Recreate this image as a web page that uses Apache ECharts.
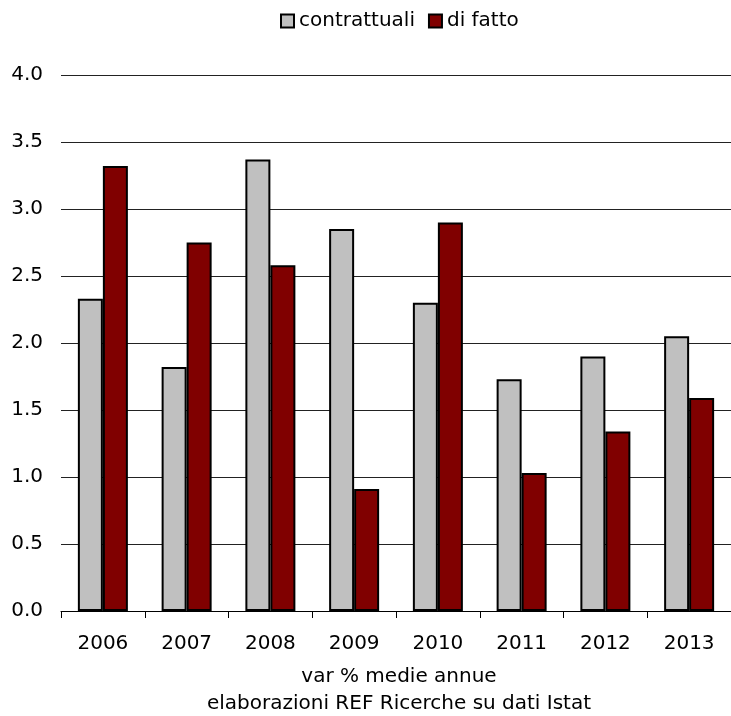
<!DOCTYPE html>
<html>
<head>
<meta charset="utf-8">
<script src="https://cdn.jsdelivr.net/npm/echarts@6/dist/echarts.min.js"></script>
<style>
html,body{margin:0;padding:0;background:#fff;}
#chart{width:731px;height:716px;}
</style>
</head>
<body>
<div id="chart"></div>
<script>
const categories = ['2006','2007','2008','2009','2010','2011','2012','2013'];
const contrattuali = [2.33, 1.82, 3.37, 2.85, 2.30, 1.73, 1.90, 2.05];
const diFatto = [3.32, 2.75, 2.58, 0.91, 2.90, 1.03, 1.34, 1.59];
const yTicks = { min: 0, max: 4, interval: 0.5 };
const footLines = ['var % medie annue', 'elaborazioni REF Ricerche su dati Istat'];

const font = 'DejaVu Sans';
const fs = 20;
const gridLeft = 61, gridRight = -6;
const plotCenter = gridLeft + (731 - gridLeft - gridRight) / 2;

const chart = echarts.init(document.getElementById('chart'), null, {renderer: 'canvas'});
chart.setOption({
  animation: false,
  backgroundColor: '#ffffff',
  textStyle: { fontFamily: font, color: '#000' },
  graphic: [
    { type: 'text', x: plotCenter, y: 677,
      style: { text: footLines[0], font: fs + 'px "' + font + '"', fill: '#000',
               align: 'center', verticalAlign: 'middle' } },
    { type: 'text', x: plotCenter, y: 704,
      style: { text: footLines[1], font: fs + 'px "' + font + '"', fill: '#000',
               align: 'center', verticalAlign: 'middle' } }
  ],
  legend: {
    top: 11, left: 280, padding: 0,
    itemWidth: 13, itemHeight: 13, itemGap: 13,
    icon: 'rect',
    textStyle: { fontFamily: font, fontSize: fs, color: '#000' },
    data: ['contrattuali', 'di fatto']
  },
  grid: { left: gridLeft, right: gridRight, top: 75, bottom: 105, containLabel: false },
  xAxis: {
    type: 'category', data: categories,
    axisLine: { show: true, lineStyle: { color: '#000', width: 1 } },
    axisTick: { show: true, length: 7, lineStyle: { color: '#000' } },
    axisLabel: { fontFamily: font, fontSize: fs, color: '#000', margin: 23 }
  },
  yAxis: {
    type: 'value', min: yTicks.min, max: yTicks.max, interval: yTicks.interval,
    axisLine: { show: false }, axisTick: { show: false },
    axisLabel: { fontFamily: font, fontSize: fs, color: '#000', margin: 18,
      formatter: v => v.toFixed(1) },
    splitLine: { lineStyle: { color: '#222', width: 1 } }
  },
  series: [
    { name: 'contrattuali', type: 'bar', data: contrattuali, barWidth: 25, barGap: '0%',
      itemStyle: { color: '#c0c0c0', borderColor: '#000', borderWidth: 2 } },
    { name: 'di fatto', type: 'bar', data: diFatto, barWidth: 25, barGap: '0%',
      itemStyle: { color: '#800000', borderColor: '#000', borderWidth: 2 } }
  ]
});
</script>
</body>
</html>
